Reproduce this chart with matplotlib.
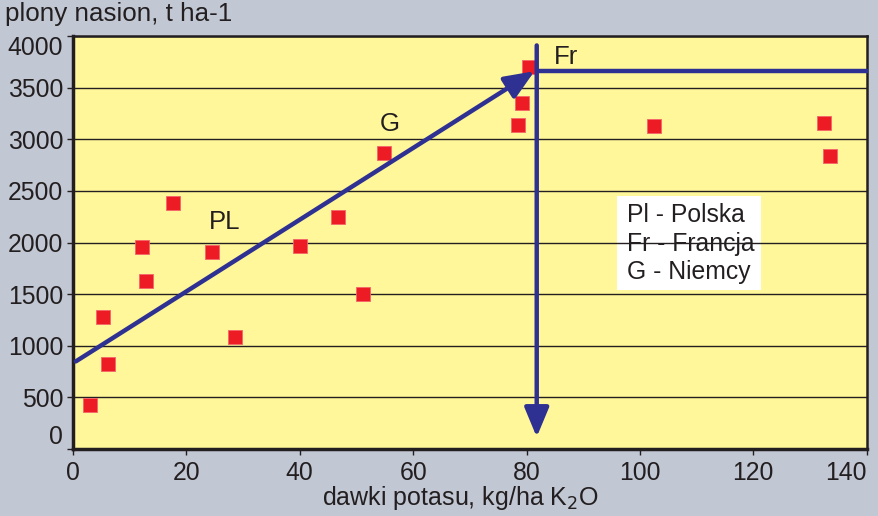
import matplotlib.pyplot as plt
from matplotlib.patches import Rectangle

# --- data ---
dawki = [3.0, 5.3, 6.2, 12.2, 12.9, 17.7, 24.6, 28.5, 40.0, 46.8, 51.1, 54.8,
         78.5, 79.2, 80.4, 102.4, 132.4, 133.6]
plony = [424, 1282, 819, 1957, 1629, 2381, 1908, 1080, 1966, 2246, 1504, 2863,
         3142, 3354, 3701, 3132, 3161, 2834]

# trend arrow (start -> tip), optimum lines
trend_start = (0.5, 848)
trend_tip = (81.4, 3660)
opt_dose = 81.8
opt_yield = 3660
opt_top = 3910
opt_bottom = 115

country_labels = ['PL', 'G', 'Fr']
country_x = [26.7, 55.9, 87.0]
country_y = [2197, 3152, 3798]

legend_lines = ['Pl - Polska', 'Fr - Francja', 'G - Niemcy']

xticks = [0, 20, 40, 60, 80, 100, 120, 140]
yticks = [0, 500, 1000, 1500, 2000, 2500, 3000, 3500, 4000]

bg = '#c2c7d4'
yellow = '#fff799'
red = '#ed1c24'
blue = '#2e3192'
dark = '#231f20'

plt.rcParams['font.family'] = ['Liberation Sans', 'DejaVu Sans']

fig = plt.figure(figsize=(8.79, 5.16), dpi=100, facecolor=bg)
ax = fig.add_axes([0.083, 0.130, 0.903, 0.800])
ax.set_facecolor(yellow)

ax.set_xlim(0, 140)
ax.set_ylim(0, 4000)
ax.set_xticks(xticks)
ax.set_yticks(yticks)
ax.tick_params(axis='both', labelsize=17.8, colors=dark, length=4, width=1)
ax.tick_params(axis='x', pad=5)
ax.tick_params(axis='y', pad=3)

# end labels pulled inward like in the original
ylabs = ax.get_yticklabels()
ylabs[0].set_va('bottom')
ylabs[-1].set_va('top')
xlabs = ax.get_xticklabels()
xlabs[-1].set_ha('right')

ax.grid(axis='y', color=dark, linewidth=1)
ax.set_axisbelow(True)
for s in ['left', 'bottom']:
    ax.spines[s].set_linewidth(2.5)
for s in ['top', 'right']:
    ax.spines[s].set_linewidth(1.8)
for s in ax.spines.values():
    s.set_color(dark)

# white legend box (gridlines run over it in the original)
ax.add_patch(Rectangle((96.0, 1536), 25.4, 918, facecolor='white',
                       edgecolor='none', zorder=0.3))
for i, t in enumerate(legend_lines):
    ax.text(97.7, 2270 - i * 280, t, fontsize=17.8, color=dark,
            va='center', ha='left', zorder=3)

# points
ax.plot(dawki, plony, 's', color=red, markersize=9.5,
        markeredgecolor='#f4646a', markeredgewidth=0.6, zorder=4)

# lines & arrows
arrow_style = '-|>,head_length=0.6,head_width=0.25'
ax.annotate('', xy=trend_tip, xytext=trend_start,
            arrowprops=dict(arrowstyle=arrow_style, color=blue, lw=3.2,
                            mutation_scale=30, shrinkA=0, shrinkB=0),
            zorder=5)
ax.annotate('', xy=(opt_dose, opt_bottom), xytext=(opt_dose, opt_top),
            arrowprops=dict(arrowstyle=arrow_style, color=blue, lw=3.2,
                            mutation_scale=30, shrinkA=0, shrinkB=0),
            zorder=5, annotation_clip=False)
ax.plot([opt_dose, 140.3], [opt_yield, opt_yield], color=blue, lw=3.2,
        solid_capstyle='butt', zorder=5, clip_on=False)

for lab, x, y in zip(country_labels, country_x, country_y):
    ax.text(x, y, lab, fontsize=18.5, color=dark, ha='center', va='center', zorder=6)

fig.text(0.006, 0.972, 'plony nasion, t ha-1', fontsize=18.7, color=dark,
         ha='left', va='center')
fig.text(0.524, 0.008, 'dawki potasu, kg/ha K$_2$O', fontsize=18, color=dark,
         ha='center', va='bottom')

fig.savefig('out.png', dpi=100, facecolor=bg)
